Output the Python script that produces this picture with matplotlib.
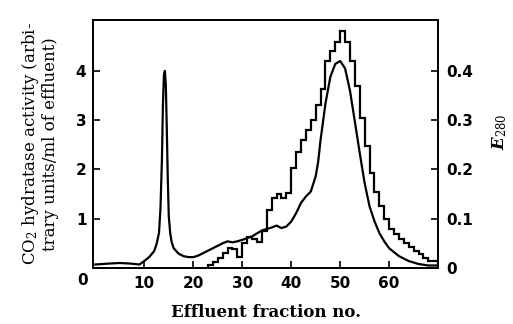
import matplotlib
matplotlib.use("Agg")
import matplotlib.pyplot as plt

plt.rcParams["mathtext.fontset"] = "custom"
plt.rcParams["mathtext.rm"] = "DejaVu Serif"
plt.rcParams["mathtext.it"] = "DejaVu Serif:italic:bold"
plt.rcParams["mathtext.bf"] = "DejaVu Serif:bold"

# Step histogram: CO2 hydratase activity per fraction (left axis)
act_edges = list(range(23, 71))
act_values = [0.05, 0.12, 0.2, 0.3, 0.4, 0.38, 0.22, 0.5, 0.63, 0.58, 0.53, 0.75,
              1.17, 1.42, 1.5, 1.42, 1.52, 2.02, 2.36, 2.6, 2.8, 3.0, 3.3, 3.63,
              4.2, 4.4, 4.58, 4.8, 4.58, 4.2, 3.7, 3.05, 2.48, 1.92, 1.55, 1.25,
              1.0, 0.8, 0.68, 0.58, 0.5, 0.42, 0.35, 0.28, 0.2, 0.14, 0.14]

# E280 curve (right axis)
e_x = [0, 3, 5, 7, 9, 10, 11, 12, 12.5, 13, 13.3, 13.6, 13.8, 14.0, 14.2, 14.4, 14.6,
       14.8, 15.0, 15.3, 15.6, 16, 17, 18, 19, 20, 21, 22, 24, 26, 27, 28, 29, 30,
       32, 34, 36, 37, 38, 39, 40, 41, 42, 43, 44, 45, 45.5, 46, 47, 48, 49, 50,
       51, 52, 53, 54, 55, 56, 57, 58, 59, 60, 62, 64, 66, 68, 70]
e_y = [0.007, 0.009, 0.010, 0.009, 0.007, 0.014, 0.022, 0.034, 0.048, 0.071, 0.12,
       0.22, 0.33, 0.39, 0.40, 0.37, 0.28, 0.18, 0.105, 0.07, 0.052, 0.040, 0.029,
       0.024, 0.022, 0.022, 0.025, 0.030, 0.040, 0.050, 0.054, 0.052, 0.054, 0.057,
       0.064, 0.076, 0.082, 0.086, 0.081, 0.084, 0.094, 0.111, 0.132, 0.145, 0.155,
       0.186, 0.215, 0.26, 0.334, 0.388, 0.414, 0.420, 0.405, 0.360, 0.297, 0.233,
       0.172, 0.125, 0.095, 0.071, 0.054, 0.040, 0.024, 0.014, 0.008, 0.005, 0.005]

left_ticks = [1, 2, 3, 4]
right_ticks = [0, 0.1, 0.2, 0.3, 0.4]
x_ticks = [10, 20, 30, 40, 50, 60]

fig = plt.figure(figsize=(5.13, 3.24), dpi=100)
ax = fig.add_axes([0.182, 0.173, 0.672, 0.765])
ax2 = ax.twinx()

ax.stairs(act_values, act_edges, color="black", linewidth=1.6)
ax2.plot(e_x, e_y, color="black", linewidth=1.6)

ax.set_xlim(-0.4, 70)
ax.set_ylim(0, 5.03)
ax2.set_ylim(0, 0.503)

tick_font = dict(family="DejaVu Sans", weight="bold", size=11)
ax.set_xticks(x_ticks)
ax.set_xticklabels([str(t) for t in x_ticks], fontdict=tick_font)
ax.set_yticks(left_ticks)
ax.set_yticklabels([str(t) for t in left_ticks], fontdict=tick_font)
ax2.set_yticks(right_ticks)
ax2.set_yticklabels(["0", "0.1", "0.2", "0.3", "0.4"], fontdict=tick_font)

ax.tick_params(axis="both", direction="in", length=5, width=1.2, pad=6)
ax2.tick_params(axis="y", direction="in", length=5, width=1.2, pad=6)
ax.tick_params(axis="y", pad=5)
for a in (ax, ax2):
    for s in a.spines.values():
        s.set_linewidth(1.3)

ax.text(-0.03, -0.05, "0", transform=ax.transAxes, ha="center", va="center", **tick_font)

ax.set_xlabel("Effluent fraction no.",
              fontdict=dict(family="DejaVu Serif", weight="bold", size=12), labelpad=9)
ax.set_ylabel("CO$_2$ hydratase activity (arbi-\ntrary units/ml of effluent)",
              fontdict=dict(family="DejaVu Serif", size=12), labelpad=12, linespacing=1.05)
ax2.set_ylabel("$E_{280}$", fontdict=dict(family="DejaVu Serif", weight="bold", size=12))
ax2.yaxis.set_label_coords(1.15, 0.55)

fig.savefig("out.png", dpi=100)
